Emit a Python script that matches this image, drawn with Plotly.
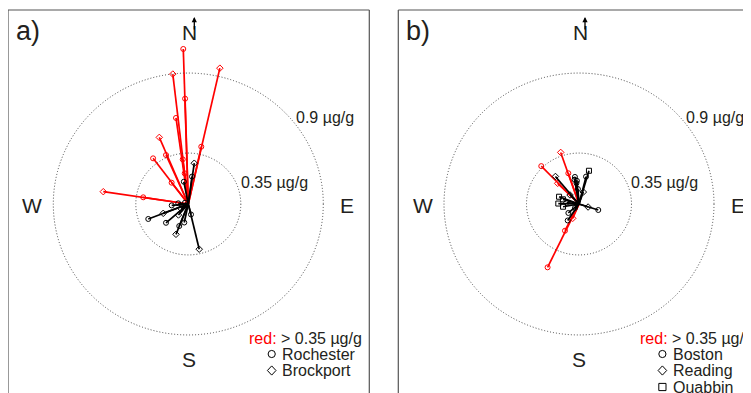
import numpy as np
import plotly.graph_objects as go

# ---------------- data (vector length in ug/g, direction in degrees clockwise from N) -------------
a_conc = [1.066, 0.957, 0.899, 0.724, 0.597, 0.497, 0.403, 0.392, 0.368, 0.309, 0.184, 0.212, 0.573, 0.304,
          0.283, 0.190, 0.156, 0.286, 0.179, 0.197, 0.224, 0.163, 0.130, 0.074, 0.319, 0.111, 0.067, 0.024, 0.100, 0.058]
a_dir = [358.2, 12.7, 353.4, 358.3, 352.1, 337.1, 12.4, 323.2, 336.2, 353.1, 322.8, 353.5, 278.5, 278.7,
         8.1, 7.5, 349.0, 248.9, 249.0, 229.0, 201.5, 201.7, 192.0, 166.0, 166.8, 265.0, 274.0, 292.0, 221.0, 238.0]
a_site = ["Rochester", "Brockport", "Brockport", "Rochester", "Rochester", "Brockport", "Rochester", "Rochester",
          "Rochester", "Rochester", "Rochester", "Rochester", "Brockport", "Rochester",
          "Brockport", "Rochester", "Rochester", "Rochester", "Brockport", "Rochester", "Brockport", "Rochester",
          "Rochester", "Rochester", "Brockport", "Rochester", "Rochester", "Rochester", "Brockport", "Brockport"]
a_high = [1] * 14 + [0] * 16

b_conc = [0.483, 0.206, 0.107, 0.362, 0.201, 0.375, 0.223,
          0.238, 0.194, 0.087, 0.135, 0.064, 0.188, 0.145, 0.103, 0.170, 0.160, 0.246, 0.142, 0.112, 0.138,
          0.083, 0.108, 0.094, 0.136, 0.038, 0.086]
b_dir = [205.7, 207.0, 203.0, 316.0, 315.0, 341.0, 341.4,
         16.2, 14.0, 19.4, 107.8, 109.0, 351.7, 353.3, 356.0, 350.0, 355.0, 320.3, 290.6, 286.7, 271.3,
         276.3, 260.0, 229.0, 213.6, 225.0, 316.0]
b_site = ["Boston", "Boston", "Reading", "Boston", "Reading", "Reading", "Boston",
          "Quabbin", "Boston", "Reading", "Boston", "Reading", "Boston", "Boston", "Boston", "Boston", "Boston",
          "Reading", "Quabbin", "Quabbin", "Quabbin", "Reading", "Quabbin", "Boston", "Boston", "Boston", "Reading"]
b_high = [1] * 7 + [0] * 20

ring_levels = [0.35, 0.9]
ring_labels = ["0.35 µg/g", "0.9 µg/g"]
a_sites = ["Rochester", "Brockport"]
b_sites = ["Boston", "Reading", "Quabbin"]
symbols = {"Rochester": "circle-open", "Brockport": "diamond-open",
           "Boston": "circle-open", "Reading": "diamond-open", "Quabbin": "square-open"}

# ---------------- layout constants (pixels, in screenshot coordinates) ----------------
W, H = 751, 393
OFF = 8.0                      # page body margin compensation
XS, YS = 150.0, 145.5          # pixels per ug/g
CY = 204.0
FONT = "Liberation Sans, Arial, sans-serif"
TXT = "#231f20"
RED = "#ff0000"

panels = [
    dict(ax="x", ay="y", cx=188.3, left=8.0, right=369.3, label="a)",
         conc=a_conc, dirs=a_dir, site=a_site, high=a_high, sites=a_sites),
    dict(ax="x2", ay="y2", cx=579.0, left=398.3, right=W + OFF, label="b)",
         conc=b_conc, dirs=b_dir, site=b_site, high=b_high, sites=b_sites),
]

fig = go.Figure()
annotations = []
shapes = []


def px(x):
    return (x - OFF) / W


def py(y):
    return 1 - (y - OFF) / H


for i, p in enumerate(panels):
    conc = np.array(p["conc"])
    th = np.radians(np.array(p["dirs"]))
    east = conc * np.sin(th)
    north = conc * np.cos(th)
    high = np.array(p["high"])
    site = np.array(p["site"])

    for flag, col in [(1, RED), (0, "black")]:
        idx = np.where(high == flag)[0]
        xs, ys = [], []
        for k in idx:
            xs += [0, east[k], None]
            ys += [0, north[k], None]
        fig.add_trace(go.Scatter(x=xs, y=ys, mode="lines", line=dict(color=col, width=1.7),
                                 xaxis=p["ax"], yaxis=p["ay"], showlegend=False, hoverinfo="skip"))
        for s in p["sites"]:
            m = idx[site[idx] == s]
            if len(m) == 0:
                continue
            fig.add_trace(go.Scatter(x=east[m], y=north[m], mode="markers",
                                     marker=dict(symbol=symbols[s], size=5, color=col, line=dict(width=1, color=col)),
                                     xaxis=p["ax"], yaxis=p["ay"], showlegend=False))

    # rings
    for lv in ring_levels:
        shapes.append(dict(type="circle", xref=p["ax"], yref=p["ay"], x0=-lv, x1=lv, y0=-lv, y1=lv,
                           line=dict(color="#444444", width=1, dash="1px,2px")))

    cx = p["cx"]
    # frame (left, top, right)
    for (x0, y0, x1, y1) in [(p["left"], 10, p["left"], 420), (p["left"], 10, p["right"], 10),
                             (p["right"], 10, p["right"], 420)]:
        shapes.append(dict(type="line", xref="paper", yref="paper", x0=px(x0), x1=px(x1), y0=py(y0), y1=py(y1),
                           line=dict(color="#555555", width=1.2)))

    def ann(text, x, y, size, color=TXT, xanchor="center"):
        annotations.append(dict(text=text, x=px(x), y=py(y), xref="paper", yref="paper", showarrow=False,
                                xanchor=xanchor, yanchor="middle", font=dict(family=FONT, size=size, color=color)))

    ann(p["label"], p["left"] + 6, 31, 27, xanchor="left")
    ann("N", cx + 1.2, 33, 21)
    ann("S", cx + 0.2, 359, 21)
    ann("W", cx - 156.5, 206, 21)
    ann("E", cx + 158.5, 206, 21)
    # north arrow
    annotations.append(dict(x=px(cx + 6), y=py(17), xref="paper", yref="paper", ax=0, ay=14, text="",
                            showarrow=True, arrowhead=2, arrowsize=0.8, arrowwidth=1.3, arrowcolor="black"))
    # ring labels
    ann(ring_labels[0], cx + 85.7, 182, 16)
    ann(ring_labels[1], cx + 136.2, 118, 16)

    # legend
    lx = cx + 58.5
    annotations.append(dict(text="<span style='color:%s'>red:</span> &gt; 0.35 µg/g" % RED, x=px(lx), y=py(338.5),
                            xref="paper", yref="paper", showarrow=False, xanchor="left", yanchor="middle",
                            font=dict(family=FONT, size=16, color=TXT)))
    for j, s in enumerate(p["sites"]):
        yy = 354 + 16.5 * j
        ann(s, cx + 92, yy, 16, xanchor="left")
        mx = cx + 83.4
        if symbols[s].startswith("circle"):
            shapes.append(dict(type="circle", xref="paper", yref="paper", xsizemode="pixel", ysizemode="pixel",
                               xanchor=px(mx), yanchor=py(yy), x0=-3.6, x1=3.6, y0=-3.6, y1=3.6,
                               line=dict(color="black", width=1)))
        elif symbols[s].startswith("diamond"):
            shapes.append(dict(type="path", xref="paper", yref="paper", xsizemode="pixel", ysizemode="pixel",
                               xanchor=px(mx), yanchor=py(yy), path="M0,4.6 L4.3,0 L0,-4.6 L-4.3,0 Z",
                               line=dict(color="black", width=1)))
        else:
            shapes.append(dict(type="rect", xref="paper", yref="paper", xsizemode="pixel", ysizemode="pixel",
                               xanchor=px(mx), yanchor=py(yy), x0=-3.6, x1=3.6, y0=-3.6, y1=3.6,
                               line=dict(color="black", width=1)))

# east arrow stub in panel b (clipped at the right edge)
shapes.append(dict(type="line", xref="paper", yref="paper", x0=px(743.5), x1=px(760), y0=py(204.5), y1=py(204.5),
                   line=dict(color="black", width=1)))

axis_common = dict(visible=False, showgrid=False, zeroline=False, fixedrange=True)
layout_axes = {}
for i, p in enumerate(panels):
    sfx = "" if i == 0 else "2"
    layout_axes["xaxis" + sfx] = dict(axis_common, domain=[px(p["left"]), min(1.0, px(p["right"]))],
                                      range=[(p["left"] - p["cx"]) / XS, (p["right"] - p["cx"]) / XS],
                                      anchor="y" + sfx)
    layout_axes["yaxis" + sfx] = dict(axis_common, domain=[0, py(10)],
                                      range=[(CY - (H + OFF)) / YS, (CY - 10) / YS], anchor="x" + sfx)

fig.update_layout(width=W, height=H, margin=dict(l=0, r=0, t=0, b=0), paper_bgcolor="white",
                  plot_bgcolor="rgba(0,0,0,0)", showlegend=False, annotations=annotations, shapes=shapes,
                  **layout_axes)

fig.write_html("out.html")
